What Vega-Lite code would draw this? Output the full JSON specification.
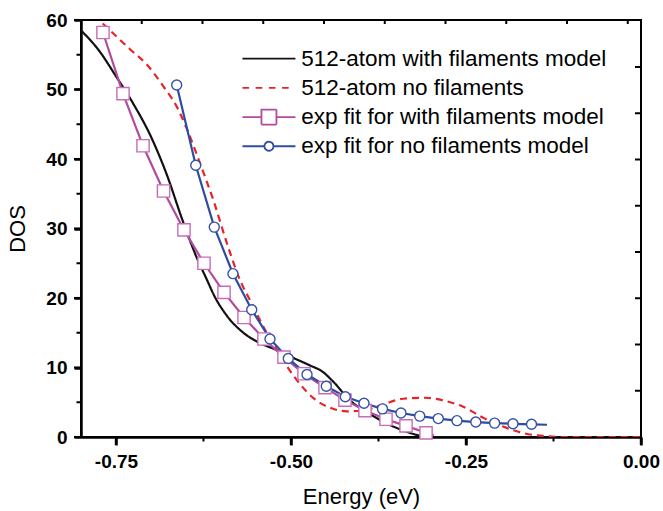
{
  "$schema": "https://vega.github.io/schema/vega-lite/v6.json",
  "width": 560,
  "height": 417,
  "autosize": {"type": "none"},
  "padding": {"left": 81, "top": 20, "right": 22, "bottom": 74},
  "background": "white",
  "config": {
    "view": {"stroke": "black", "strokeWidth": 2},
    "font": "Liberation Sans"
  },
  "datasets": {
    "xmaj": [{"E": -0.75}, {"E": -0.5}, {"E": -0.25}, {"E": 0}],
    "xmin": [{"E": -0.625}, {"E": -0.375}, {"E": -0.125}],
    "ymaj": [{"DOS": 0}, {"DOS": 10}, {"DOS": 20}, {"DOS": 30}, {"DOS": 40}, {"DOS": 50}, {"DOS": 60}],
    "ymin": [{"DOS": 5}, {"DOS": 15}, {"DOS": 25}, {"DOS": 35}, {"DOS": 45}, {"DOS": 55}],
    "topticks": [{"u": 1}, {"u": 2}, {"u": 3}, {"u": 4}, {"u": 5}, {"u": 6}, {"u": 7}, {"u": 8}, {"u": 9}],
    "rightticks": [{"v": 1}, {"v": 2}, {"v": 3}, {"v": 4}, {"v": 5}, {"v": 6}, {"v": 7}, {"v": 8}],
    "dos": [
      {"s": "512-atom with filaments model", "E": -0.800, "DOS": 58.5},
      {"s": "512-atom with filaments model", "E": -0.775, "DOS": 55.7},
      {"s": "512-atom with filaments model", "E": -0.750, "DOS": 51.9},
      {"s": "512-atom with filaments model", "E": -0.725, "DOS": 47.9},
      {"s": "512-atom with filaments model", "E": -0.700, "DOS": 43.2},
      {"s": "512-atom with filaments model", "E": -0.678, "DOS": 37.9},
      {"s": "512-atom with filaments model", "E": -0.655, "DOS": 31.2},
      {"s": "512-atom with filaments model", "E": -0.635, "DOS": 25.9},
      {"s": "512-atom with filaments model", "E": -0.620, "DOS": 22.6},
      {"s": "512-atom with filaments model", "E": -0.610, "DOS": 20.4},
      {"s": "512-atom with filaments model", "E": -0.592, "DOS": 17.5},
      {"s": "512-atom with filaments model", "E": -0.568, "DOS": 15.0},
      {"s": "512-atom with filaments model", "E": -0.544, "DOS": 13.5},
      {"s": "512-atom with filaments model", "E": -0.520, "DOS": 12.5},
      {"s": "512-atom with filaments model", "E": -0.497, "DOS": 11.4},
      {"s": "512-atom with filaments model", "E": -0.473, "DOS": 10.3},
      {"s": "512-atom with filaments model", "E": -0.455, "DOS": 9.4},
      {"s": "512-atom with filaments model", "E": -0.440, "DOS": 8.0},
      {"s": "512-atom with filaments model", "E": -0.416, "DOS": 5.3},
      {"s": "512-atom with filaments model", "E": -0.392, "DOS": 3.6},
      {"s": "512-atom with filaments model", "E": -0.368, "DOS": 2.2},
      {"s": "512-atom with filaments model", "E": -0.344, "DOS": 1.1},
      {"s": "512-atom with filaments model", "E": -0.320, "DOS": 0.3},
      {"s": "512-atom with filaments model", "E": -0.297, "DOS": 0.0},
      {"s": "512-atom with filaments model", "E": 0.000, "DOS": 0.0},

      {"s": "512-atom no filaments", "E": -0.769, "DOS": 59.5},
      {"s": "512-atom no filaments", "E": -0.749, "DOS": 57.6},
      {"s": "512-atom no filaments", "E": -0.730, "DOS": 55.8},
      {"s": "512-atom no filaments", "E": -0.706, "DOS": 53.6},
      {"s": "512-atom no filaments", "E": -0.682, "DOS": 50.4},
      {"s": "512-atom no filaments", "E": -0.663, "DOS": 47.5},
      {"s": "512-atom no filaments", "E": -0.649, "DOS": 44.4},
      {"s": "512-atom no filaments", "E": -0.630, "DOS": 39.4},
      {"s": "512-atom no filaments", "E": -0.611, "DOS": 34.1},
      {"s": "512-atom no filaments", "E": -0.590, "DOS": 27.4},
      {"s": "512-atom no filaments", "E": -0.575, "DOS": 23.1},
      {"s": "512-atom no filaments", "E": -0.554, "DOS": 18.8},
      {"s": "512-atom no filaments", "E": -0.537, "DOS": 15.4},
      {"s": "512-atom no filaments", "E": -0.520, "DOS": 12.5},
      {"s": "512-atom no filaments", "E": -0.504, "DOS": 9.9},
      {"s": "512-atom no filaments", "E": -0.487, "DOS": 7.6},
      {"s": "512-atom no filaments", "E": -0.468, "DOS": 5.6},
      {"s": "512-atom no filaments", "E": -0.444, "DOS": 4.2},
      {"s": "512-atom no filaments", "E": -0.420, "DOS": 3.7},
      {"s": "512-atom no filaments", "E": -0.397, "DOS": 3.8},
      {"s": "512-atom no filaments", "E": -0.368, "DOS": 4.7},
      {"s": "512-atom no filaments", "E": -0.340, "DOS": 5.5},
      {"s": "512-atom no filaments", "E": -0.309, "DOS": 5.65},
      {"s": "512-atom no filaments", "E": -0.282, "DOS": 5.25},
      {"s": "512-atom no filaments", "E": -0.254, "DOS": 4.35},
      {"s": "512-atom no filaments", "E": -0.225, "DOS": 2.75},
      {"s": "512-atom no filaments", "E": -0.197, "DOS": 1.5},
      {"s": "512-atom no filaments", "E": -0.168, "DOS": 0.55},
      {"s": "512-atom no filaments", "E": -0.140, "DOS": 0.15},
      {"s": "512-atom no filaments", "E": -0.111, "DOS": 0.0},
      {"s": "512-atom no filaments", "E": 0.000, "DOS": 0.0},

      {"s": "exp fit for with filaments model", "E": -0.7686, "DOS": 58.2},
      {"s": "exp fit for with filaments model", "E": -0.7400, "DOS": 49.4},
      {"s": "exp fit for with filaments model", "E": -0.7114, "DOS": 41.9},
      {"s": "exp fit for with filaments model", "E": -0.6821, "DOS": 35.4},
      {"s": "exp fit for with filaments model", "E": -0.6529, "DOS": 29.8},
      {"s": "exp fit for with filaments model", "E": -0.6243, "DOS": 25.0},
      {"s": "exp fit for with filaments model", "E": -0.5957, "DOS": 20.8},
      {"s": "exp fit for with filaments model", "E": -0.5671, "DOS": 17.2},
      {"s": "exp fit for with filaments model", "E": -0.5386, "DOS": 14.1},
      {"s": "exp fit for with filaments model", "E": -0.5100, "DOS": 11.5},
      {"s": "exp fit for with filaments model", "E": -0.4814, "DOS": 9.1},
      {"s": "exp fit for with filaments model", "E": -0.4514, "DOS": 7.1},
      {"s": "exp fit for with filaments model", "E": -0.4229, "DOS": 5.3},
      {"s": "exp fit for with filaments model", "E": -0.3943, "DOS": 3.8},
      {"s": "exp fit for with filaments model", "E": -0.3643, "DOS": 2.55},
      {"s": "exp fit for with filaments model", "E": -0.3357, "DOS": 1.6},
      {"s": "exp fit for with filaments model", "E": -0.3071, "DOS": 0.6},
      {"s": "exp fit for with filaments model", "E": -0.2960, "DOS": 0.25},

      {"s": "exp fit for no filaments model", "E": -0.6633, "DOS": 50.65},
      {"s": "exp fit for no filaments model", "E": -0.6361, "DOS": 39.1},
      {"s": "exp fit for no filaments model", "E": -0.6096, "DOS": 30.2},
      {"s": "exp fit for no filaments model", "E": -0.5829, "DOS": 23.5},
      {"s": "exp fit for no filaments model", "E": -0.5561, "DOS": 18.3},
      {"s": "exp fit for no filaments model", "E": -0.5300, "DOS": 14.1},
      {"s": "exp fit for no filaments model", "E": -0.5039, "DOS": 11.3},
      {"s": "exp fit for no filaments model", "E": -0.4771, "DOS": 9.0},
      {"s": "exp fit for no filaments model", "E": -0.4496, "DOS": 7.3},
      {"s": "exp fit for no filaments model", "E": -0.4224, "DOS": 5.8},
      {"s": "exp fit for no filaments model", "E": -0.3957, "DOS": 4.85},
      {"s": "exp fit for no filaments model", "E": -0.3693, "DOS": 4.05},
      {"s": "exp fit for no filaments model", "E": -0.3429, "DOS": 3.45},
      {"s": "exp fit for no filaments model", "E": -0.3161, "DOS": 3.0},
      {"s": "exp fit for no filaments model", "E": -0.2896, "DOS": 2.65},
      {"s": "exp fit for no filaments model", "E": -0.2629, "DOS": 2.35},
      {"s": "exp fit for no filaments model", "E": -0.2360, "DOS": 2.15},
      {"s": "exp fit for no filaments model", "E": -0.2091, "DOS": 2.0},
      {"s": "exp fit for no filaments model", "E": -0.1829, "DOS": 1.9},
      {"s": "exp fit for no filaments model", "E": -0.1564, "DOS": 1.83},
      {"s": "exp fit for no filaments model", "E": -0.1343, "DOS": 1.76}
    ]
  },
  "resolve": {"scale": {"x": "independent", "y": "independent"}},
  "layer": [
    {
      "data": {"name": "dos"},
      "resolve": {"axis": {"x": "independent", "y": "independent"}},
      "layer": [
        {
          "transform": [{"filter": "datum.s === '512-atom with filaments model' || datum.s === '512-atom no filaments'"}],
          "mark": {"type": "line", "strokeWidth": 2.2, "interpolate": "monotone", "clip": true},
          "encoding": {
            "x": {
              "field": "E", "type": "quantitative",
              "scale": {"domain": [-0.8, 0], "nice": false, "zero": false},
              "axis": {
                "orient": "bottom",
                "values": [-0.75, -0.5, -0.25, 0],
                "labelExpr": "datum.value < 0 ? '-' + format(abs(datum.value), '.2f') : format(datum.value, '.2f')",
                "ticks": true,
                "domain": true,
                "tickSize": 8,
                "tickWidth": 2.5,
                "tickColor": "#000000",
                "domainColor": "#000000",
                "domainWidth": 2.5,
                "grid": false,
                "labelFont": "Liberation Sans",
                "labelFontWeight": "bold",
                "labelFontSize": 19,
                "labelColor": "black",
                "labelPadding": 7,
                "labelFlush": false,
                "labelOverlap": false,
                "title": "Energy (eV)",
                "titleFont": "Liberation Sans",
                "titleFontWeight": "normal",
                "titleFontSize": 22,
                "titleColor": "black",
                "titlePadding": 15
              }
            },
            "y": {
              "field": "DOS", "type": "quantitative",
              "scale": {"domain": [0, 60], "nice": false},
              "axis": {
                "orient": "left",
                "values": [0, 10, 20, 30, 40, 50, 60],
                "ticks": true,
                "domain": true,
                "tickSize": 7,
                "tickWidth": 2.5,
                "tickColor": "#000000",
                "domainColor": "#000000",
                "domainWidth": 2.5,
                "grid": false,
                "labelFont": "Liberation Sans",
                "labelFontWeight": "bold",
                "labelFontSize": 19,
                "labelColor": "black",
                "labelPadding": 7,
                "labelFlush": false,
                "labelOverlap": false,
                "title": "DOS",
                "titleFont": "Liberation Sans",
                "titleFontWeight": "normal",
                "titleFontSize": 22,
                "titleColor": "black",
                "titlePadding": 16
              }
            },
            "stroke": {
              "field": "s", "type": "nominal",
              "scale": {
                "domain": ["512-atom with filaments model", "512-atom no filaments", "exp fit for with filaments model", "exp fit for no filaments model"],
                "range": ["#111111", "#e8232a", "#b24a9e", "#2e4d9f"]
              },
              "legend": {
                "orient": "none",
                "legendX": 176.7,
                "legendY": 27.4,
                "title": null,
                "padding": 0,
                "symbolSize": 100,
                "symbolStrokeWidth": 1.8,
                "rowPadding": 6.2,
                "labelOffset": 21,
                "labelFont": "Liberation Sans",
                "labelFontSize": 22.5,
                "labelColor": "black",
                "labelLimit": 400,
                "encode": {
                  "symbols": {
                    "update": {
                      "shape": {"signal": "['M-5.3,0L5.3,0', 'M-5.3,0L-3.97,0M-2.66,0L-1.33,0M-0.02,0L1.31,0M2.62,0L3.95,0', 'M-5.3,0L-1.5,0M1.5,0L5.3,0M-1.5,-1.5L1.5,-1.5L1.5,1.5L-1.5,1.5Z', 'M-5.3,0L-0.9,0M0.9,0L5.3,0M-0.9,0A0.9,0.9,0,1,0,0.9,0A0.9,0.9,0,1,0,-0.9,0Z'][indexof(['512-atom with filaments model', '512-atom no filaments', 'exp fit for with filaments model', 'exp fit for no filaments model'], datum.value)]"},
                      "fill": {"value": "white"},
                      "strokeWidth": {"value": 1.8},
                      "opacity": {"value": 1}
                    }
                  }
                }
              }
            },
            "strokeDash": {
              "field": "s", "type": "nominal",
              "scale": {
                "domain": ["512-atom with filaments model", "512-atom no filaments", "exp fit for with filaments model", "exp fit for no filaments model"],
                "range": [[1, 0], [7, 5], [1, 0], [1, 0]]
              },
              "legend": null
            }
          }
        },
        {
          "transform": [{"filter": "datum.s === 'exp fit for with filaments model' || datum.s === 'exp fit for no filaments model'"}],
          "mark": {"type": "line", "strokeWidth": 2.2, "clip": true},
          "encoding": {
            "x": {"field": "E", "type": "quantitative", "axis": null},
            "y": {"field": "DOS", "type": "quantitative", "axis": null},
            "stroke": {"field": "s", "type": "nominal", "legend": null}
          }
        },
        {
          "transform": [{"filter": "datum.s === 'exp fit for with filaments model' && datum.E < -0.30"}],
          "mark": {"type": "point", "shape": "square", "filled": true, "fill": "white", "stroke": "#c86cb8", "strokeWidth": 1.4, "size": 150, "opacity": 1},
          "encoding": {
            "x": {"field": "E", "type": "quantitative", "axis": null},
            "y": {"field": "DOS", "type": "quantitative", "axis": null}
          }
        },
        {
          "transform": [{"filter": "datum.s === 'exp fit for no filaments model' && datum.E < -0.14"}],
          "mark": {"type": "point", "shape": "circle", "filled": true, "fill": "white", "stroke": "#3552a8", "strokeWidth": 1.4, "size": 100, "opacity": 1},
          "encoding": {
            "x": {"field": "E", "type": "quantitative", "axis": null},
            "y": {"field": "DOS", "type": "quantitative", "axis": null}
          }
        },
        {
          "data": {"name": "xmaj"},
          "mark": {"type": "point", "shape": "M-0.3,0L0.3,0L0.3,2L-0.3,2Z", "filled": true, "fill": "#000000", "strokeWidth": 0, "size": 64, "opacity": 1},
          "encoding": {
            "x": {"field": "E", "type": "quantitative", "axis": null},
            "y": {"datum": 0, "type": "quantitative", "axis": null}
          }
        },
        {
          "data": {"name": "xmin"},
          "mark": {"type": "point", "shape": "M-0.45,0L0.45,0L0.45,2L-0.45,2Z", "filled": true, "fill": "#000000", "strokeWidth": 0, "size": 20.25, "opacity": 1},
          "encoding": {
            "x": {"field": "E", "type": "quantitative", "axis": null},
            "y": {"datum": 0, "type": "quantitative", "axis": null}
          }
        },
        {
          "data": {"name": "ymaj"},
          "mark": {"type": "point", "shape": "M0,-0.3L0,0.3L-2,0.3L-2,-0.3Z", "filled": true, "fill": "#000000", "strokeWidth": 0, "size": 49, "opacity": 1},
          "encoding": {
            "y": {"field": "DOS", "type": "quantitative", "axis": null},
            "x": {"datum": -0.8, "type": "quantitative", "axis": null}
          }
        },
        {
          "data": {"name": "ymin"},
          "mark": {"type": "point", "shape": "M0,-0.45L0,0.45L-2,0.45L-2,-0.45Z", "filled": true, "fill": "#000000", "strokeWidth": 0, "size": 20.25, "opacity": 1},
          "encoding": {
            "y": {"field": "DOS", "type": "quantitative", "axis": null},
            "x": {"datum": -0.8, "type": "quantitative", "axis": null}
          }
        }
      ]
    },
    {
      "layer": [
        {
          "data": {"name": "topticks"},
          "mark": {"type": "point", "shape": "M-0.5,0L0.5,0L0.5,2L-0.5,2Z", "filled": true, "fill": "#000000", "strokeWidth": 0, "size": 16, "opacity": 1},
          "encoding": {
            "x": {"field": "u", "type": "quantitative", "scale": {"domain": [0, 9.218], "nice": false, "zero": false}, "axis": null},
            "y": {"datum": 9.016, "type": "quantitative", "scale": {"domain": [0, 9.016], "nice": false, "zero": false}, "axis": null}
          }
        },
        {
          "data": {"name": "rightticks"},
          "mark": {"type": "point", "shape": "M0,-0.33L0,0.33L-2,0.33L-2,-0.33Z", "filled": true, "fill": "#000000", "strokeWidth": 0, "size": 36, "opacity": 1},
          "encoding": {
            "y": {"field": "v", "type": "quantitative", "scale": {"domain": [0, 9.016], "nice": false, "zero": false}, "axis": null},
            "x": {"datum": 9.218, "type": "quantitative", "scale": {"domain": [0, 9.218], "nice": false, "zero": false}, "axis": null}
          }
        }
      ]
    }
  ]
}
